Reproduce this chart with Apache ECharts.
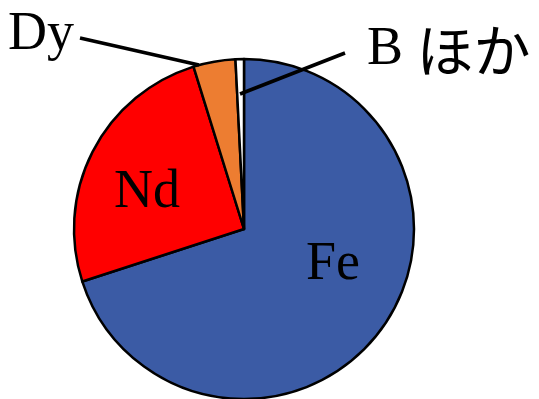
<!DOCTYPE html>
<html>
<head>
<meta charset="utf-8">
<script src="https://cdn.jsdelivr.net/npm/echarts@6/dist/echarts.min.js"></script>
<style>
  html, body { margin: 0; padding: 0; background: #fff; }
  #chart { width: 539px; height: 399px; }
</style>
</head>
<body>
<div id="chart"></div>
<script>
// 成分比率（%）
var categories = ['Fe', 'Nd', 'Dy', 'B ほか'];
var values = [70, 25.2, 4, 0.8];
var colors = ['#3b5ba5', '#ff0000', '#ed7d31', '#ffffff'];

var myChart = echarts.init(document.getElementById('chart'));

var pieData = categories.map(function (name, i) {
  return { name: name, value: values[i], itemStyle: { color: colors[i] } };
});
// ラベル用（扇形は透明、引き出し線を扇形の上に描くため）
// Fe, Nd は扇形の中なので引き出し線なし
var labelData = categories.map(function (name, i) {
  return {
    name: name,
    value: values[i],
    label: { position: i < 2 ? 'inside' : 'outside' },
    labelLine: { show: i >= 2 }
  };
});

var option = {
  animation: false,
  series: [{
    type: 'pie',
    center: [244, 229],
    radius: 170,
    startAngle: 90,
    clockwise: true,
    silent: true,
    itemStyle: { borderColor: '#000', borderWidth: 2.5 },
    label: { show: false },
    labelLine: { show: false },
    data: pieData
  }, {
    type: 'pie',
    z: 3,
    center: [244, 229],
    radius: 170,
    startAngle: 90,
    clockwise: true,
    silent: true,
    avoidLabelOverlap: false,
    itemStyle: { color: 'transparent', borderWidth: 0 },
    label: {
      show: true,
      color: '#000',
      fontSize: 54,
      fontFamily: '"Liberation Serif", "Times New Roman", "Noto Sans CJK JP"',
      formatter: function (p) {
        // 「ほか」だけゴシック体で少し大きく
        return p.name.replace('ほか', '{jp|ほか}');
      },
      rich: {
        jp: { fontSize: 57, fontFamily: '"Noto Sans CJK JP"', color: '#000' }
      }
    },
    labelLine: {
      length: 10,
      length2: 10,
      lineStyle: { color: '#000', width: 3.5 }
    },
    labelLayout: function (params) {
      var i = params.dataIndex;
      if (i === 0) return { x: 333, y: 265, align: 'center', verticalAlign: 'middle' };
      if (i === 1) return { x: 147, y: 193, align: 'center', verticalAlign: 'middle' };
      if (i === 2) {
        return {
          x: 8, y: 35, align: 'left', verticalAlign: 'middle',
          labelLinePoints: [[199, 65], [80, 38], [80, 38]]
        };
      }
      return {
        x: 367, y: 50, align: 'left', verticalAlign: 'middle',
        labelLinePoints: [[240, 94], [345, 53], [345, 53]]
      };
    },
    data: labelData
  }]
};

myChart.setOption(option);
</script>
</body>
</html>
